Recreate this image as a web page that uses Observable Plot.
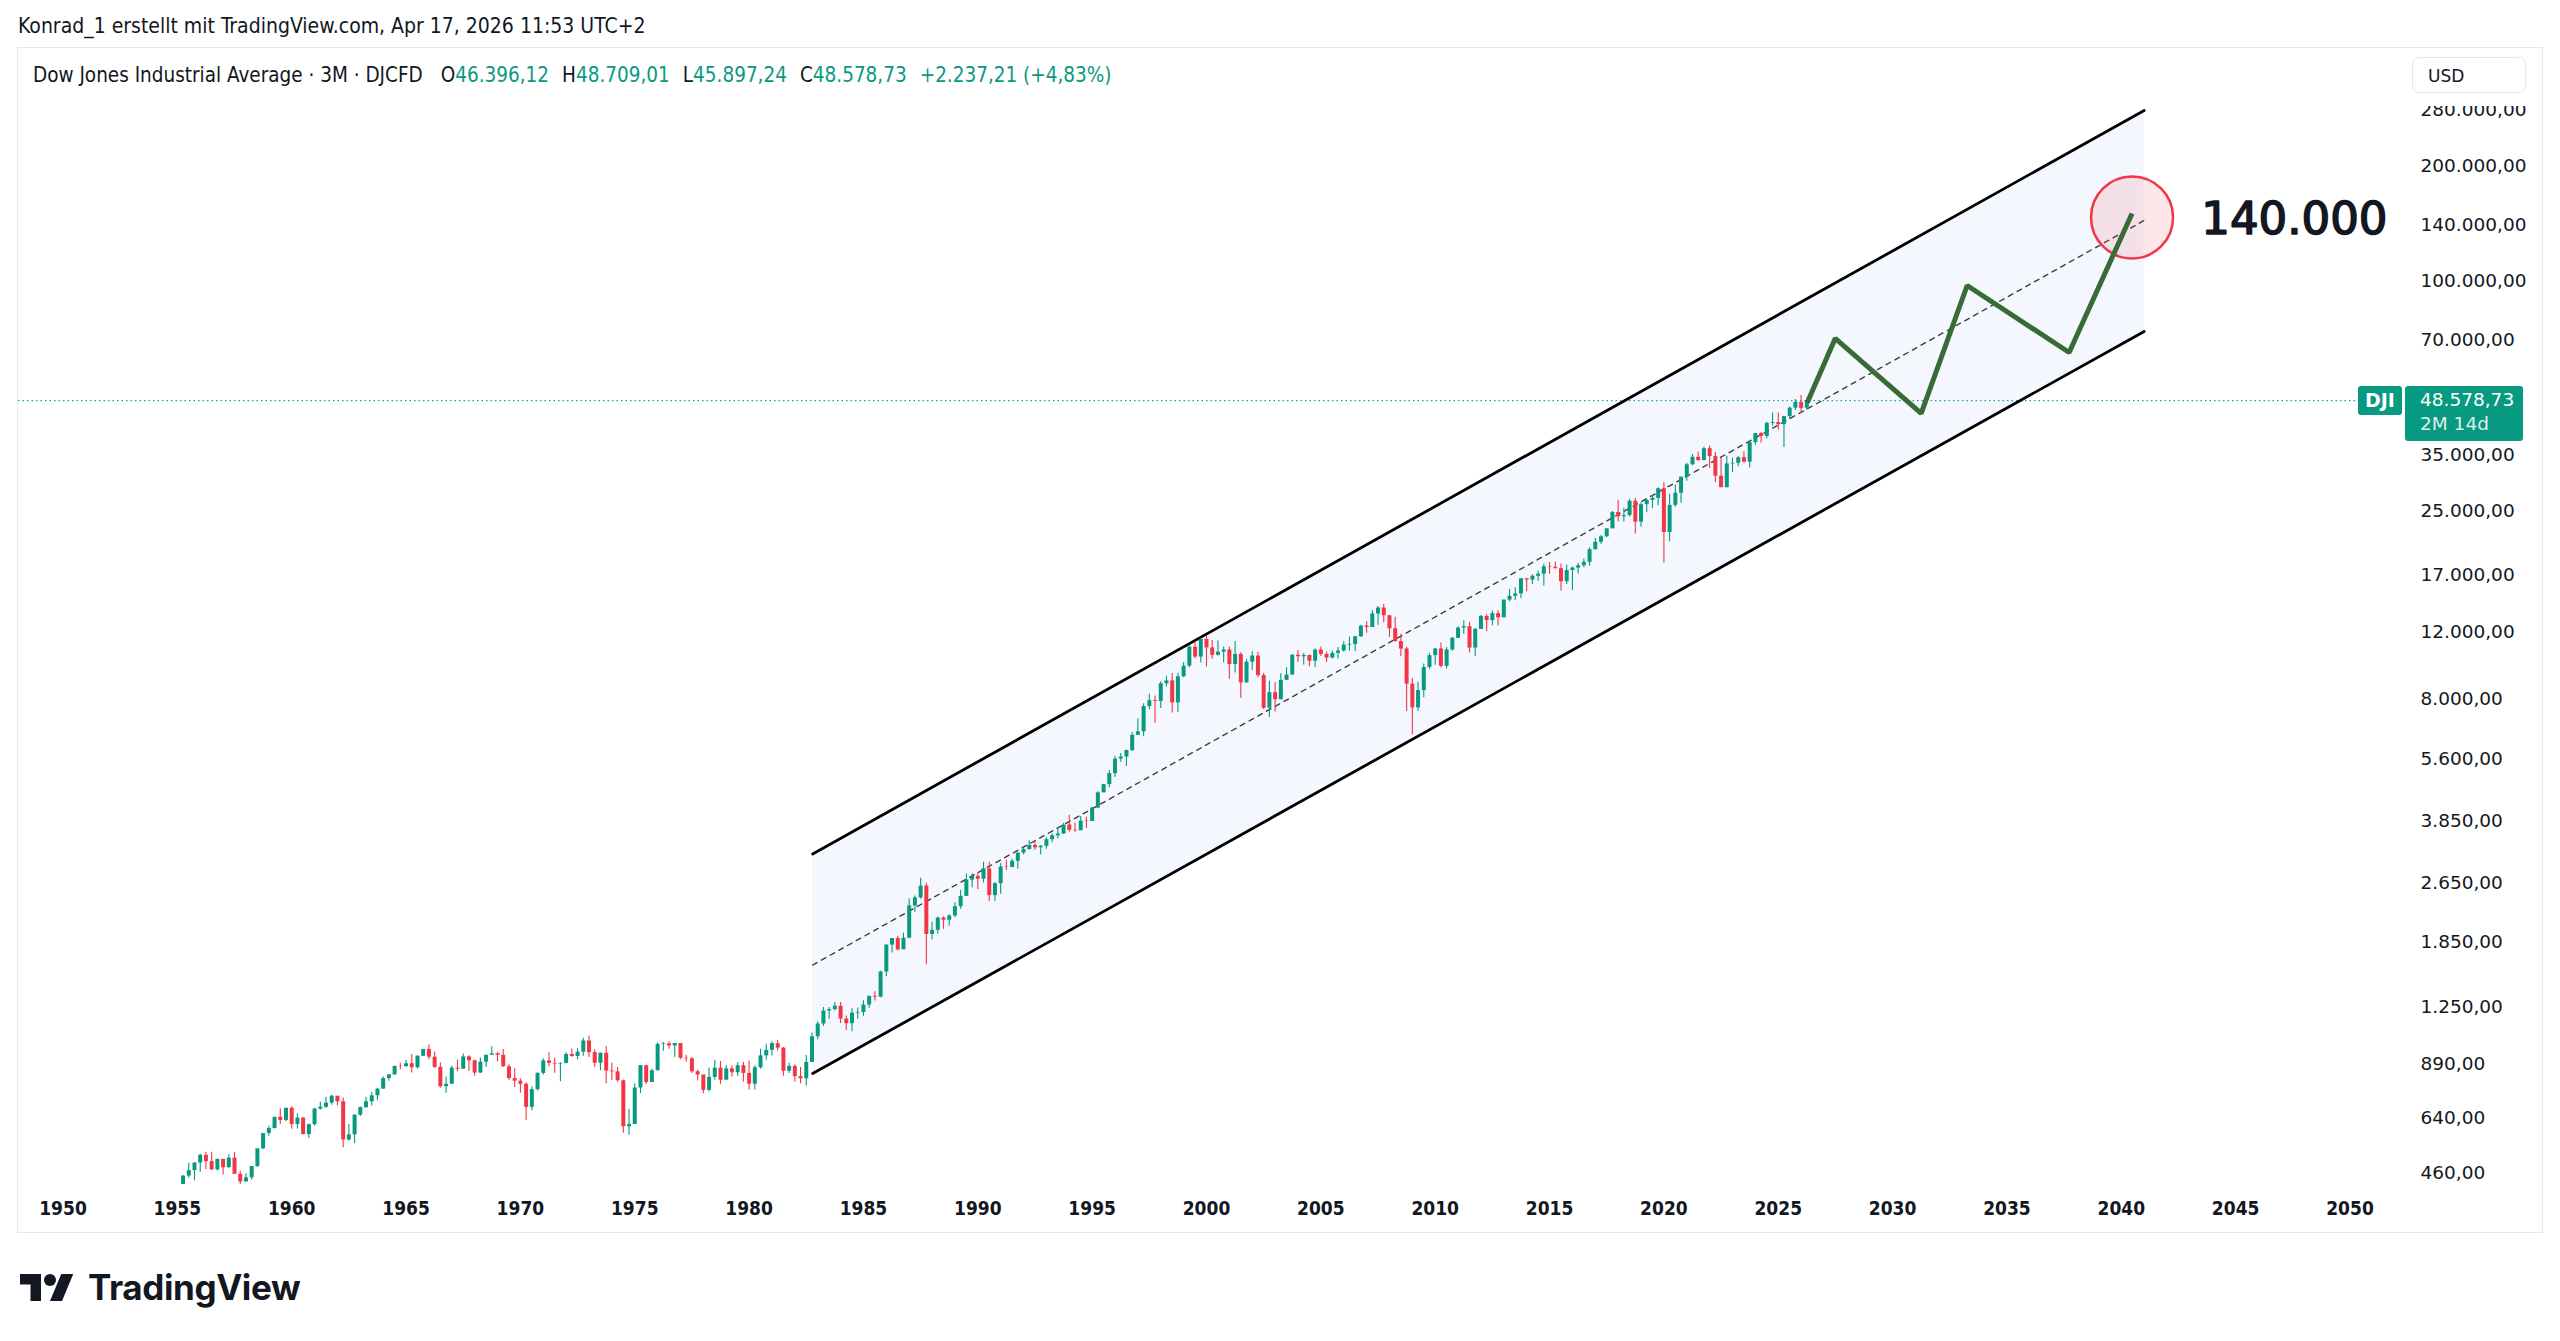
<!DOCTYPE html>
<html>
<head>
<meta charset="utf-8">
<script src="https://cdn.jsdelivr.net/npm/d3@7"></script>
<script src="https://cdn.jsdelivr.net/npm/@observablehq/plot@0.6"></script>
<style>
  html, body { margin: 0; padding: 0; background: #ffffff; }
  #page { position: relative; width: 2560px; height: 1341px; overflow: hidden; background: #ffffff;
          font-family: "DejaVu Sans Condensed", "DejaVu Sans", sans-serif; color: #131722; }
  #attr { position: absolute; left: 18px; top: 13px; font-size: 21px; line-height: 26px; white-space: nowrap; }
  #frame { position: absolute; left: 17px; top: 47px; width: 2524px; height: 1184px; border: 1px solid #e6e8ee; }
  #chart { position: absolute; left: 0; top: 0; }
  #legend { position: absolute; left: 15px; top: 14px; font-size: 20.5px; line-height: 26px; white-space: nowrap; }
  #legend .v { color: #089981; }
  #legend .k { margin-left: 13px; }
  #legend .k0 { margin-left: 18px; }
  #cover { position: absolute; left: 2382px; top: 0; width: 142px; height: 58px; background: #ffffff; }
  #usd { position: absolute; left: 12px; top: 9px; width: 114px; height: 36px; border: 1px solid #e6e8ee; border-radius: 7px;
         font-family: "DejaVu Sans", sans-serif; font-size: 17px; line-height: 36px; text-indent: 15px; box-sizing: border-box; }
  .tag { position: absolute; background: #089981; color: #ffffff; font-family: "DejaVu Sans", sans-serif; border-radius: 3px; }
  #logo { position: absolute; left: 20px; top: 1268px; height: 38px; display: flex; align-items: center; }
  #logo span { font-family: Inter, "DejaVu Sans", sans-serif; font-weight: 700; font-size: 35px; letter-spacing: -0.4px; margin-left: 14px; color: #131722; }
</style>
</head>
<body>
<div id="page">
  <div id="attr">Konrad_1 erstellt mit TradingView.com, Apr 17, 2026 11:53 UTC+2</div>
  <div id="frame">
    <div id="chart"></div>
    <div id="legend"></div>
    <div id="cover"><div id="usd">USD</div></div>
  </div>
  <div id="logo">
    <svg width="54" height="27" viewBox="0 4 36 18"><path d="M14 22H7V11H0V4h14v18zM28 22h-8l7.5-18h8L28 22z" fill="#131722"/><circle cx="20" cy="8" r="4" fill="#131722"/></svg>
    <span>TradingView</span>
  </div>
</div>
<script>
// ---------- DATA (quarterly candles, Dow Jones Industrial Average, from 1955 Q1) ----------
const startYear = 1955;
const firstOpen = 404.4;
const closes = [
  409.7, 451.4, 466.6, 488.4,      // 1955
  511.8, 492.8, 468.7, 499.5,      // 1956
  474.8, 503.3, 456.3, 435.7,      // 1957
  446.8, 478.2, 532.1, 583.7,      // 1958
  601.7, 643.6, 631.7, 679.4,      // 1959
  616.6, 640.6, 580.1, 615.9,      // 1960
  676.6, 684.0, 701.2, 731.1,      // 1961
  707.0, 561.3, 579.0, 652.1,      // 1962
  682.5, 706.9, 732.8, 763.0,      // 1963
  813.3, 831.5, 875.4, 874.1,      // 1964
  889.1, 868.0, 930.6, 969.3,      // 1965
  924.8, 870.1, 774.2, 785.7,      // 1966
  866.0, 860.3, 926.7, 905.1,      // 1967
  840.7, 897.8, 935.8, 943.8,      // 1968
  935.5, 873.2, 813.1, 800.4,      // 1969
  785.6, 683.5, 760.7, 838.9,      // 1970
  904.4, 891.1, 887.2, 890.2,      // 1971
  940.7, 929.0, 953.3, 1020.0,     // 1972
  951.0, 891.7, 947.1, 850.9,      // 1973
  846.7, 802.4, 607.9, 616.2,      // 1974
  768.2, 879.0, 793.9, 852.4,      // 1975
  999.5, 1002.8, 990.2, 1004.7,    // 1976
  919.1, 916.3, 847.1, 831.2,      // 1977
  757.4, 819.0, 865.8, 805.0,      // 1978
  862.2, 842.0, 878.6, 838.7,      // 1979
  785.8, 867.9, 932.4, 964.0,      // 1980
  1003.9, 976.9, 850.0, 875.0,     // 1981
  822.8, 811.9, 896.3, 1046.5,     // 1982
  1130.0, 1222.0, 1233.1, 1258.6,  // 1983
  1164.9, 1132.4, 1206.7, 1211.6,  // 1984
  1266.8, 1335.5, 1328.6, 1546.7,  // 1985
  1818.6, 1892.7, 1767.6, 1896.0,  // 1986
  2304.7, 2418.5, 2596.3, 1938.8,  // 1987
  1988.1, 2141.7, 2112.9, 2168.6,  // 1988
  2293.6, 2440.1, 2692.8, 2753.2,  // 1989
  2707.2, 2880.7, 2452.5, 2633.7,  // 1990
  2913.9, 2906.8, 3016.8, 3168.8,  // 1991
  3235.5, 3318.5, 3271.7, 3301.1,  // 1992
  3435.1, 3516.1, 3555.1, 3754.1,  // 1993
  3636.0, 3625.0, 3843.2, 3834.4,  // 1994
  4157.7, 4556.1, 4789.1, 5117.1,  // 1995
  5587.1, 5654.6, 5882.2, 6448.3,  // 1996
  6583.5, 7672.8, 7945.3, 7908.3,  // 1997
  8799.8, 8952.0, 7842.6, 9181.4,  // 1998
  9786.2, 10970.8, 10337.0, 11497.1, // 1999
  10921.9, 10447.9, 10650.9, 10788.0, // 2000
  9878.8, 10502.4, 8847.6, 10021.5,   // 2001
  10403.9, 9243.3, 7591.9, 8341.6,    // 2002
  7992.1, 8985.4, 9275.1, 10453.9,    // 2003
  10357.7, 10435.5, 10080.3, 10783.0, // 2004
  10503.8, 10275.0, 10568.7, 10717.5, // 2005
  11109.3, 11150.2, 11679.1, 12463.2, // 2006
  12354.4, 13408.6, 13895.6, 13264.8, // 2007
  12262.9, 11350.0, 10850.7, 8776.4,  // 2008
  7608.9, 8447.0, 9712.3, 10428.1,    // 2009
  10856.6, 9774.0, 10788.1, 11577.5,  // 2010
  12319.7, 12414.3, 10913.4, 12217.6, // 2011
  13212.0, 12880.1, 13437.1, 13104.1, // 2012
  14578.5, 14909.6, 15129.7, 16576.7, // 2013
  16457.7, 16826.6, 17042.9, 17823.1, // 2014
  17776.1, 17619.5, 16284.7, 17425.0, // 2015
  17685.1, 17930.0, 18308.2, 19762.6, // 2016
  20663.2, 21349.6, 22405.1, 24719.2, // 2017
  24103.1, 24271.4, 26458.3, 23327.5, // 2018
  25928.7, 26600.0, 26916.8, 28538.4, // 2019
  21917.2, 25812.9, 27781.7, 30606.5, // 2020
  32981.6, 34502.5, 33843.9, 36338.3, // 2021
  34678.4, 30775.4, 28725.5, 33147.3, // 2022
  33274.2, 34407.6, 33507.5, 37689.5, // 2023
  39807.4, 39118.9, 42330.2, 42544.2, // 2024
  42001.8, 44094.8, 46397.9, 48063.3, // 2025
  46341.52                            // 2026 Q1
];
const highs = [
  419.7, 453.0, 487.5, 490.0,
  515.0, 521.1, 521.0, 500.0,
  499.2, 513.2, 520.8, 465.8,
  458.0, 478.2, 532.1, 583.7,
  609.5, 643.8, 678.1, 679.4,
  685.5, 656.4, 641.6, 617.8,
  679.4, 705.5, 726.5, 734.9,
  726.0, 723.5, 616.0, 654.0,
  685.0, 726.9, 746.0, 767.2,
  820.3, 831.5, 875.7, 891.7,
  906.3, 939.6, 932.0, 969.3,
  995.2, 954.7, 894.0, 820.9,
  876.7, 909.6, 943.1, 933.5,
  908.9, 919.9, 936.0, 985.2,
  952.7, 968.9, 883.2, 863.1,
  811.3, 792.5, 773.1, 842.0,
  916.8, 950.8, 920.9, 893.9,
  950.2, 971.3, 973.5, 1036.3,
  1051.7, 967.4, 949.0, 987.1,
  891.7, 869.9, 806.2, 674.8,
  786.5, 879.0, 881.8, 860.7,
  1009.2, 1011.0, 1014.8, 1004.7,
  999.8, 936.0, 923.4, 856.3,
  817.7, 866.6, 907.7, 901.4,
  878.7, 878.7, 893.9, 897.6,
  903.8, 878.0, 970.9, 1000.2,
  1015.2, 1024.1, 980.0, 891.4,
  882.5, 869.2, 934.8, 1070.6,
  1145.9, 1248.3, 1249.0, 1287.2,
  1286.6, 1186.0, 1239.7, 1244.2,
  1299.4, 1335.5, 1372.2, 1553.1,
  1821.7, 1892.7, 1919.7, 1955.6,
  2405.5, 2446.0, 2722.4, 2640.9,
  2087.4, 2152.2, 2158.6, 2183.5,
  2347.1, 2531.9, 2791.4, 2791.4,
  2810.2, 2999.8, 3000.0, 2653.7,
  2973.6, 3035.3, 3055.2, 3168.8,
  3290.0, 3413.2, 3395.0, 3319.0,
  3478.3, 3554.8, 3652.0, 3794.3,
  3978.4, 3800.0, 3953.9, 3936.0,
  4172.6, 4589.6, 4801.8, 5216.5,
  5683.6, 5778.0, 5894.7, 6560.9,
  7112.9, 7796.5, 8259.3, 8178.3,
  8906.0, 9211.8, 9367.8, 9374.3,
  10000.0, 11107.2, 11326.0, 11569.0,
  11750.3, 11425.0, 11401.0, 10977.0,
  10983.6, 11350.0, 10610.0, 10184.0,
  10673.1, 10635.0, 9379.5, 8931.7,
  8869.0, 9351.0, 9686.1, 10494.0,
  10753.6, 10570.0, 10475.0, 10868.0,
  10984.5, 10665.0, 10719.0, 10954.0,
  11333.0, 11670.0, 11727.0, 12529.0,
  12795.9, 13692.0, 14021.9, 14198.1,
  13279.5, 13136.7, 11867.0, 10970.0,
  9088.0, 8877.9, 9918.0, 10580.3,
  10907.0, 11258.0, 10948.0, 11625.0,
  12391.0, 12876.0, 12753.9, 12284.0,
  13289.0, 13338.7, 13653.0, 13661.7,
  14585.0, 15542.4, 15709.6, 16588.0,
  16588.0, 16978.0, 17350.6, 18103.5,
  18288.6, 18351.4, 18137.1, 17977.9,
  17790.0, 18167.6, 18668.4, 19987.6,
  21169.1, 21535.0, 22419.5, 24876.0,
  26616.7, 25402.8, 26769.2, 26951.8,
  26241.0, 26696.0, 27398.7, 28701.7,
  29568.6, 27580.2, 29199.4, 30637.5,
  33259.0, 35091.6, 35631.2, 36679.4,
  36952.7, 35492.2, 34281.4, 34712.3,
  34342.3, 34588.7, 35679.1, 37778.9,
  39889.0, 40077.7, 42628.3, 45073.6,
  45054.0, 44178.0, 46714.0, 48886.0,
  50100.0
];
const lows = [
  388.2, 405.0, 446.0, 438.6,
  462.4, 468.8, 468.0, 466.1,
  454.8, 474.0, 456.3, 419.8,
  436.9, 440.0, 476.0, 530.0,
  574.5, 600.0, 616.5, 627.0,
  599.1, 599.6, 579.0, 566.1,
  610.2, 672.0, 679.3, 691.9,
  689.9, 535.8, 557.0, 549.7,
  646.8, 679.0, 689.0, 711.5,
  762.4, 800.3, 829.0, 857.0,
  869.8, 840.6, 861.0, 929.0,
  911.0, 864.0, 767.0, 744.3,
  786.4, 847.8, 859.7, 849.1,
  825.1, 838.0, 869.7, 936.0,
  899.8, 869.8, 802.0, 769.9,
  744.1, 631.2, 669.4, 753.6,
  830.6, 873.0, 839.6, 798.0,
  889.3, 925.0, 910.5, 930.5,
  922.7, 869.1, 851.9, 788.3,
  803.9, 795.4, 584.6, 577.6,
  616.0, 742.9, 784.0, 794.0,
  852.0, 958.1, 970.0, 924.0,
  912.0, 898.7, 839.0, 800.9,
  742.1, 751.0, 805.0, 785.3,
  807.0, 821.1, 825.0, 796.7,
  759.1, 759.1, 860.0, 908.5,
  931.6, 960.0, 824.0, 838.0,
  795.5, 788.0, 776.9, 896.0,
  1027.0, 1113.0, 1163.0, 1223.0,
  1134.2, 1086.6, 1079.0, 1163.0,
  1185.0, 1242.0, 1297.9, 1324.0,
  1502.3, 1735.5, 1755.0, 1781.0,
  1895.0, 2215.9, 2400.0, 1616.0,
  1879.1, 1941.0, 2000.0, 2038.6,
  2144.6, 2258.0, 2440.0, 2569.3,
  2543.2, 2645.0, 2365.1, 2365.1,
  2470.3, 2854.0, 2900.0, 2874.0,
  3135.0, 3226.0, 3225.0, 3136.6,
  3241.9, 3370.8, 3449.0, 3546.0,
  3593.0, 3593.0, 3636.0, 3674.6,
  3832.0, 4138.0, 4580.0, 4703.0,
  5000.0, 5485.0, 5346.5, 5847.0,
  6442.0, 6391.7, 7522.0, 6936.0,
  7580.0, 8627.0, 7379.0, 7400.0,
  9120.0, 9700.0, 10213.0, 9976.0,
  9731.8, 10200.0, 10400.0, 9975.0,
  9047.0, 9389.0, 8062.3, 8836.0,
  9529.5, 9120.0, 7532.7, 7181.0,
  7416.6, 7992.0, 8962.0, 9275.0,
  10000.0, 9852.0, 9749.0, 9708.0,
  10368.0, 10012.0, 10219.0, 10216.0,
  10661.0, 10700.0, 10698.0, 11650.0,
  11939.6, 12354.0, 12517.9, 12724.0,
  11634.8, 11300.0, 10365.0, 7449.4,
  6470.0, 7450.0, 8087.2, 9597.0,
  9835.0, 9680.0, 9614.0, 10711.0,
  11555.0, 11862.0, 10597.0, 10362.0,
  12217.0, 12035.0, 12492.0, 12471.5,
  13104.0, 14434.0, 14551.0, 14719.0,
  15340.7, 16015.0, 16333.8, 15855.0,
  17037.8, 17576.0, 15370.3, 16013.0,
  15450.6, 17063.0, 17713.0, 17883.6,
  19677.9, 20379.6, 21279.0, 22405.0,
  23360.3, 23344.5, 24077.6, 21712.5,
  22638.0, 24680.6, 25339.6, 25743.5,
  18213.7, 20735.0, 25523.5, 26143.8,
  29856.3, 32786.0, 33613.0, 33785.7,
  32272.6, 29653.3, 28715.9, 28660.9,
  31429.8, 32586.5, 33336.7, 32327.2,
  37122.8, 37611.6, 38499.0, 41700.0,
  40661.8, 36611.8, 43340.8, 45728.0,
  44900.0
];
// current (unfinished) 2026 Q2 candle, from the legend
const current = { open: 46396.12, high: 48709.01, low: 45897.24, close: 48578.73, prevClose: 46341.52 };
const countdown = "2M 14d";

// drawings: parallel channel (upper, middle dashed, lower)
const channelYears = [1982.78, 2041.0];
const channelUpper = [3152, 279500];
const channelMid   = [1613, 143980];
const channelLower = [838, 73700];

// projected zig-zag path
const projYears  = [2026.27, 2027.49, 2031.25, 2033.26, 2037.72, 2040.47];
const projValues = [48000, 70650, 44950, 97250, 64930, 150200];

// target marker
const targetYear = [2040.47];
const targetValue = [146600];
const targetLabel = ["140.000"];
const targetLabelYear = [2043.5];

// axes
const yearTicks = [1950, 1955, 1960, 1965, 1970, 1975, 1980, 1985, 1990, 1995, 2000, 2005, 2010, 2015, 2020, 2025, 2030, 2035, 2040, 2045, 2050];
const priceTicks = [460, 640, 890, 1250, 1850, 2650, 3850, 5600, 8000, 12000, 17000, 25000, 35000, 70000, 100000, 140000, 200000, 280000];

// ---------- BUILD ----------
const GREEN = "#089981", RED = "#f23645";
const de = d3.formatLocale({decimal: ",", thousands: ".", grouping: [3], currency: ["", ""]});
const fmt2 = de.format(",.2f");

const candles = closes.map((c, i) => ({
  t: startYear + i / 4,
  open: i === 0 ? firstOpen : closes[i - 1],
  high: highs[i], low: lows[i], close: c
}));
candles.push({ t: startYear + closes.length / 4, open: current.open, high: current.high, low: current.low, close: current.close });
candles.forEach(d => d.color = d.close >= d.open ? GREEN : RED);

const channel = channelYears.map((t, i) => ({ t, upper: channelUpper[i], mid: channelMid[i], lower: channelLower[i] }));
const proj = projYears.map((t, i) => ({ t, v: projValues[i] }));
const target = targetYear.map((t, i) => ({ t, v: targetValue[i] }));
const targetText = targetLabel.map((s, i) => ({ t: targetLabelYear[i], v: targetValue[i] * 0.99, s }));

const W = 2524, H = 1184;
const chart = Plot.plot({
  width: W, height: H,
  marginLeft: 0, marginRight: 142, marginTop: 0, marginBottom: 48,
  x: { type: "linear", domain: [1950, 2050], range: [44.5, 2331.5] },
  y: { type: "log", domain: [460, 280000], range: [1124.5, 61.7] },
  style: { background: "transparent", fontFamily: "DejaVu Sans, sans-serif", color: "#131722", overflow: "visible" },
  marks: [
    Plot.areaY(channel, { x: "t", y1: "lower", y2: "upper", fill: "#f5f7fe" }),
    Plot.ruleY([current.close], { stroke: GREEN, strokeWidth: 1.3, strokeDasharray: "1.5,3", strokeOpacity: 0.9 }),
    Plot.line(channel, { x: "t", y: "upper", stroke: "#000", strokeWidth: 2.8 }),
    Plot.line(channel, { x: "t", y: "lower", stroke: "#000", strokeWidth: 2.8 }),
    Plot.line(channel, { x: "t", y: "mid", stroke: "#3d3d3d", strokeWidth: 1.4, strokeDasharray: "5,5" }),
    Plot.ruleX(candles, { x: "t", y1: "low", y2: "high", stroke: "color", strokeWidth: 1.1, clip: true }),
    Plot.ruleX(candles, { x: "t", y1: "open", y2: "close", stroke: "color", strokeWidth: 4, clip: true }),
    Plot.dot(target, { x: "t", y: "v", r: 41, fill: RED, fillOpacity: 0.12, stroke: RED, strokeWidth: 2.5 }),
    Plot.line(proj, { x: "t", y: "v", stroke: "#386b35", strokeWidth: 5, strokeLinejoin: "miter", strokeLinecap: "butt" }),
    Plot.text(targetText, { x: "t", y: "v", text: "s", textAnchor: "start", fontSize: 45, fill: "#131722",
      stroke: "#131722", strokeWidth: 1.6, fontFamily: "DejaVu Sans" }),
    Plot.axisX(yearTicks, { anchor: "bottom", label: null, tickSize: 0, tickPadding: 17, tickFormat: d => String(d),
      fontSize: 19, fontWeight: 700, fontFamily: "DejaVu Sans Condensed", fill: "#131722" }),
    Plot.axisY(priceTicks, { anchor: "right", label: null, tickSize: 0, tickPadding: 20, tickFormat: d => fmt2(d),
      fontSize: 18.5, fontFamily: "DejaVu Sans", fill: "#131722" })
  ]
});
document.getElementById("chart").appendChild(chart);

// legend
const change = current.close - current.prevClose;
const pct = change / current.prevClose * 100;
document.getElementById("legend").innerHTML =
  `Dow Jones Industrial Average · 3M · DJCFD` +
  `<span class="k0">O</span><span class="v">${fmt2(current.open)}</span>` +
  `<span class="k">H</span><span class="v">${fmt2(current.high)}</span>` +
  `<span class="k">L</span><span class="v">${fmt2(current.low)}</span>` +
  `<span class="k">C</span><span class="v">${fmt2(current.close)}</span>` +
  `<span class="k v">${change >= 0 ? "+" : ""}${fmt2(change)} (${change >= 0 ? "+" : ""}${de.format(".2f")(pct)}%)</span>`;

// price tags on the price scale, placed with the chart's own y scale
const yScale = chart.scale("y");
const yc = yScale.apply(current.close);
const frame = document.getElementById("frame");
const tag1 = document.createElement("div");
tag1.className = "tag";
tag1.style.cssText += `left:2340px;top:${yc - 14}px;width:44px;height:29px;line-height:29px;text-align:center;font-size:19px;font-weight:600;`;
tag1.textContent = "DJI";
frame.appendChild(tag1);
const tag2 = document.createElement("div");
tag2.className = "tag";
tag2.style.cssText += `left:2387px;top:${yc - 14}px;width:118px;height:55px;font-size:18.5px;line-height:24px;padding:2px 0 0 15px;box-sizing:border-box;`;
tag2.innerHTML = `${fmt2(current.close)}<br><span style="opacity:0.85">${countdown}</span>`;
frame.appendChild(tag2);
</script>
</body>
</html>
